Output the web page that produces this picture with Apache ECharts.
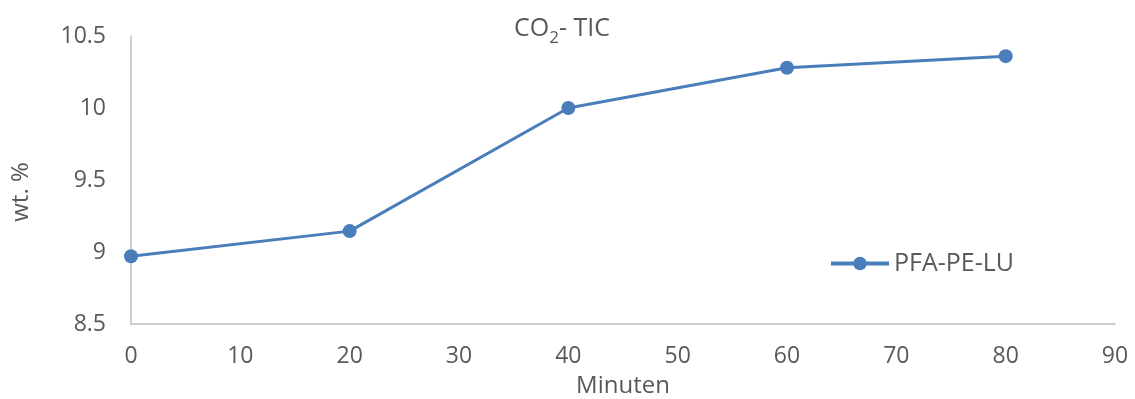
<!DOCTYPE html>
<html><head><meta charset="utf-8">
<script src="https://cdn.jsdelivr.net/npm/echarts@6/dist/echarts.min.js"></script>
<style>html,body{margin:0;padding:0;background:#fff}#c{width:1135px;height:399px}</style>
</head><body><div id="c"></div>
<script>
const minutes = [0, 20, 40, 60, 80];
const values = [8.97, 9.145, 10.0, 10.28, 10.36];
const seriesName = 'PFA-PE-LU';
const xName = 'Minuten';
const yName = 'wt. %';
const font = '"Open Sans", "Liberation Sans", sans-serif';
const txt = '#595959';
const chart = echarts.init(document.getElementById('c'));
chart.setOption({
  animation: false,
  backgroundColor: '#fff',
  title: {
    text: '{a|CO}{s|2}{a|- TIC}',
    left: 557, top: -3, textAlign: 'center',
    textStyle: {
      rich: {
        a: {fontFamily: font, fontSize: 25, color: txt, fontWeight: 'normal', height: 36},
        s: {fontFamily: font, fontSize: 17, color: txt, fontWeight: 'normal', height: 36, padding: [18, 0, 0, 0]}
      }
    }
  },
  legend: {
    data: [seriesName], left: 824, top: 246, itemWidth: 58, itemHeight: 17, itemGap: 3,
    lineStyle: {width: 4},
    textStyle: {fontFamily: font, fontSize: 25, color: txt}
  },
  grid: {left: 131, right: 20, top: 36, bottom: 75, outerBoundsMode: 'none', containLabel: false},
  xAxis: {
    type: 'value', min: 0, max: 90, interval: 10,
    name: xName, nameLocation: 'middle', nameGap: 50,
    nameTextStyle: {fontFamily: font, fontSize: 24, color: txt},
    axisLine: {lineStyle: {color: '#bfbfbf', width: 1.5}},
    axisTick: {show: false}, splitLine: {show: false},
    axisLabel: {fontFamily: font, fontSize: 23, color: txt, margin: 21}
  },
  yAxis: {
    type: 'value', min: 8.5, max: 10.5, interval: 0.5,
    name: yName, nameLocation: 'middle', nameGap: 98, nameRotate: 90,
    nameTextStyle: {fontFamily: font, fontSize: 24, color: txt, padding: [0, 0, 0, -24]},
    axisLine: {show: true, lineStyle: {color: '#bfbfbf', width: 1.5}},
    axisTick: {show: false}, splitLine: {show: false},
    axisLabel: {fontFamily: font, fontSize: 23, color: txt, margin: 25}
  },
  series: [{
    name: seriesName, type: 'line',
    data: minutes.map((m, i) => [m, values[i]]),
    symbol: 'circle', symbolSize: 14,
    lineStyle: {color: '#4a7ebb', width: 3},
    itemStyle: {color: '#4a7ebb'}
  }]
});
</script></body></html>
